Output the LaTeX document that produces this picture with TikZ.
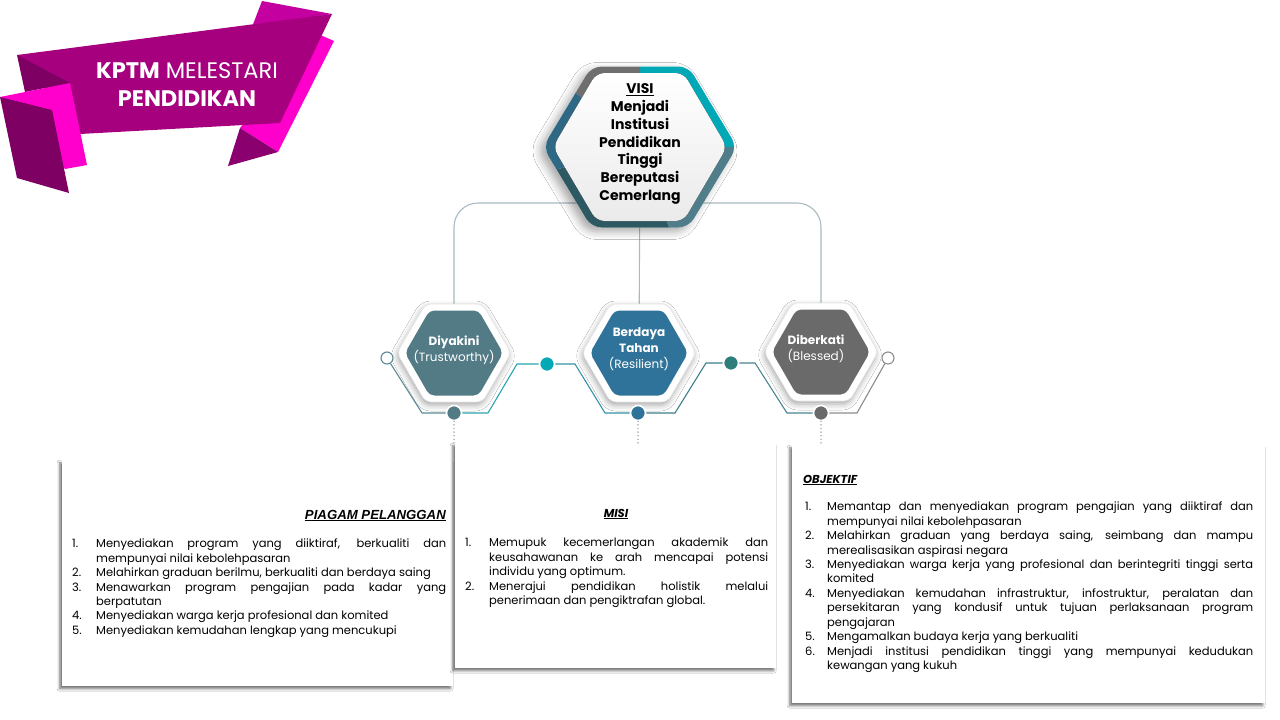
\documentclass[tikz,border=0pt]{standalone}
\usepackage{fontspec}
\setmainfont{Poppins}
\newfontfamily\arialf{Liberation Sans}
\usetikzlibrary{shadows.blur}
\definecolor{bandc}{HTML}{A6007E}
\definecolor{bandtop}{HTML}{C400A0}
\definecolor{pinkc}{HTML}{FF00CC}
\definecolor{darkc}{HTML}{7E0063}
\definecolor{darkr}{HTML}{8B006F}
\definecolor{ringgray}{HTML}{6E6E6E}
\definecolor{ringteal}{HTML}{00A9B5}
\definecolor{ringgt}{HTML}{4F7D89}
\definecolor{ringdark}{HTML}{2D5A62}
\definecolor{ringblue}{HTML}{2E6884}
\definecolor{hexA}{HTML}{537B86}
\definecolor{hexB}{HTML}{30739A}
\definecolor{hexC}{HTML}{6A6A6A}
\definecolor{linkc}{HTML}{A9BAC2}
\definecolor{dotc}{HTML}{7F7F7F}
\definecolor{mtealc}{HTML}{2E7F7B}
\definecolor{lineA}{HTML}{5B8A97}
\definecolor{lineB}{HTML}{2AA5B2}
\definecolor{lineC}{HTML}{3592A8}
\definecolor{lineD}{HTML}{3E7F8A}
\definecolor{lineE}{HTML}{4A8491}
\definecolor{lineF}{HTML}{8C8C8C}
\newcommand{\hexag}[2]{(#1,0) -- (#1/2,#2) -- (-#1/2,#2) -- (-#1,0) -- (-#1/2,-#2) -- (#1/2,-#2) -- cycle}
\newcommand{\itm}[3]{\par\noindent\hangindent=#1\hangafter=1\makebox[#1][l]{#2}#3\par}
\tikzset{
  pagebox/.style={fill=white, inner sep=0pt, blur shadow={shadow xshift=-2.5pt, shadow yshift=-2.5pt, shadow blur radius=2.5pt, shadow opacity=55}},
  listtext/.style={inner sep=0pt, anchor=north west, align=justify, font=\fontsize{11.5}{14.45}\selectfont, text=black},
  hexlabel/.style={text=white, align=center, inner sep=0pt, font=\fontsize{12}{16}\selectfont},
  bigdot/.style={circle, inner sep=0pt, minimum size=15pt, draw=white, line width=1.6pt, fill=#1},
  opendot/.style={circle, inner sep=0pt, minimum size=12pt, draw=#1, line width=1.1pt, fill=white},
  linkline/.style={draw=linkc, line width=1.1pt},
  conn/.style={draw=#1, line width=1.1pt},
  dotline/.style={draw=dotc, line width=1.4pt, line cap=round, dash pattern=on 0pt off 3.6pt},
  hexwhite/.style={fill=white, draw=black!10, line width=0.6pt, rounded corners=6pt, blur shadow={shadow xshift=-1pt, shadow yshift=-3pt, shadow blur radius=6pt, shadow opacity=35}},
  headbi/.style={inner sep=0pt, font=\fontsize{11.5}{14}\selectfont\bfseries\itshape},
}
\begin{document}
\begin{tikzpicture}[x=1pt,y=-1pt]
\fill[white] (0,0) rectangle (1280,720);
\useasboundingbox (0,0) rectangle (1280,720);

% ---- banner
\fill[bandtop] (262,1) -- (332,14) -- (252,27) -- cycle;
\fill[pinkc] (318,34) -- (334,41) -- (278,152) -- (240,128) -- cycle;
\fill[darkr] (240,128) -- (278,152) -- (228,166) -- cycle;
\fill[bandc] (17,55) -- (332,14) -- (280,123) -- (80,134) -- cycle;
\fill[darkc] (17,55) -- (70,83) -- (25,92) -- cycle;
\fill[pinkc] (0,97) -- (70,83) -- (87,165) -- (65,169) -- cycle;
\fill[darkc] (0,97) -- (52,110) -- (69,193) -- (17,178) -- cycle;
\node[text=white, align=center, inner sep=0pt, font=\fontsize{22.5}{28}\selectfont] (title) at (187,85) {\textbf{KPTM} MELESTARI\\\textbf{PENDIDIKAN}};

% ---- boxes
\node[pagebox, minimum width=391pt, minimum height=226pt, anchor=north west] (boxL) at (62,460) {};
\node[pagebox, minimum width=321pt, minimum height=225pt, anchor=north west] (boxM) at (455,443) {};
\node[pagebox, minimum width=473pt, minimum height=258pt, anchor=north west] (boxR) at (792,445) {};

% ---- links from vision
\coordinate (hc1) at (454,353);
\coordinate (hc2) at (639,353);
\coordinate (hc3) at (821,352);
\coordinate (vcen) at (640,147);
\coordinate (vj) at (640,203);
\draw[linkline, rounded corners=24pt] (hc1) |- (vj) -| (hc3);
\draw[linkline] (vcen) -- (hc2);

% ---- vision hexagon
\begin{scope}[shift={(640,147)}]
\fill[white, rounded corners=10pt, blur shadow={shadow xshift=-5pt, shadow yshift=-4pt, shadow blur radius=8pt, shadow opacity=35}] \hexag{97}{80.5};
\begin{scope}
\clip[rounded corners=10pt] \hexag{97}{80.5};
\fill[ringteal] (0,0) -- (200,0) -- (200,-200) -- (0,-200) -- cycle;
\fill[ringgray] (0,0) -- (0,-200) -- (-153,-129) -- cycle;
\fill[ringblue] (0,0) -- (-153,-129) -- (-193,52) -- cycle;
\fill[ringdark] (0,0) -- (-193,52) -- (-200,200) -- (68,188) -- cycle;
\fill[ringgt] (0,0) -- (68,188) -- (200,200) -- (200,0) -- cycle;
\end{scope}
\fill[rounded corners=8pt, top color=white, bottom color=black!8] \hexag{87}{74};
\end{scope}
\node[align=center, inner sep=0pt, font=\fontsize{14}{17.8}\selectfont\bfseries] (visi) at (640,144) {\underline{VISI}\\Menjadi\\Institusi\\Pendidikan\\Tinggi\\Bereputasi\\Cemerlang};

% ---- value hexagons
\foreach \cx/\cy/\col in {454/353/hexA, 639/353/hexB, 821/352/hexC} {
 \begin{scope}[shift={(\cx,\cy)}]
  \fill[hexwhite] \hexag{57}{49};
  \fill[\col, rounded corners=5pt] \hexag{49}{42.5};
 \end{scope}
}
\node[hexlabel] (h1) at (454,350) {\textbf{Diyakini}\\(Trustworthy)};
\node[hexlabel] (h2) at (639,349) {\textbf{Berdaya}\\\textbf{Tahan}\\(Resilient)};
\node[hexlabel, align=left] (h3) at (816,349) {\textbf{Diberkati}\\(Blessed)};

% ---- timeline dots
\node[opendot=lineA] (oL) at (387,358) {};
\node[bigdot=hexA] (b1) at (454,413) {};
\node[bigdot=ringteal] (m1) at (547,364) {};
\node[bigdot=hexB] (b2) at (638,413) {};
\node[bigdot=mtealc] (m2) at (731,363) {};
\node[bigdot=hexC] (b3) at (821,413) {};
\node[opendot=lineF] (oR) at (888,358) {};
\draw[conn=lineA] (oL) -- (422,413) -- (b1);
\draw[conn=lineB] (b1) -- (488,413) -- (517,364) -- (m1);
\draw[conn=lineC] (m1) -- (575,364) -- (605,413) -- (b2);
\draw[conn=lineD] (b2) -- (675,413) -- (706,363) -- (m2);
\draw[conn=lineE] (m2) -- (755,363) -- (787,413) -- (b3);
\draw[conn=lineF] (b3) -- (857,413) -- (oR);
\coordinate (d1) at (454,446);
\coordinate (d2) at (638,446);
\coordinate (d3) at (821,446);
\draw[dotline] (b1) -- (d1);
\draw[dotline] (b2) -- (d2);
\draw[dotline] (b3) -- (d3);

% ---- texts in boxes
\node[inner sep=0pt, anchor=base east, font=\arialf\fontsize{13.2}{15}\selectfont\bfseries\itshape] (hL) at (446,519) {\underline{PIAGAM PELANGGAN}};
\node[headbi, anchor=base] (hM) at (616,517) {\underline{MISI}};
\node[headbi, anchor=base west] (hR) at (803,483) {\underline{OBJEKTIF}};

\node[listtext, text width=374pt] (listL) at (72,533) {%
\itm{24pt}{1.}{Menyediakan program yang diiktiraf, berkualiti dan\linebreak mempunyai nilai kebolehpasaran}%
\itm{24pt}{2.}{Melahirkan graduan berilmu, berkualiti dan berdaya saing}%
\itm{24pt}{3.}{Menawarkan program pengajian pada kadar yang\linebreak berpatutan}%
\itm{24pt}{4.}{Menyediakan warga kerja profesional dan komited}%
\itm{24pt}{5.}{Menyediakan kemudahan lengkap yang mencukupi}};

\node[listtext, text width=303pt] (listM) at (465,532) {%
\itm{24pt}{1.}{Memupuk kecemerlangan akademik dan\linebreak keusahawanan ke arah mencapai potensi\linebreak individu yang optimum.}%
\itm{24pt}{2.}{Menerajui pendidikan holistik melalui\linebreak penerimaan dan pengiktrafan global.}};

\node[listtext, text width=448pt] (listR) at (805,496) {%
\itm{22pt}{1.}{Memantap dan menyediakan program pengajian yang diiktiraf dan\linebreak mempunyai nilai kebolehpasaran}%
\itm{22pt}{2.}{Melahirkan graduan yang berdaya saing, seimbang dan mampu\linebreak merealisasikan aspirasi negara}%
\itm{22pt}{3.}{Menyediakan warga kerja yang profesional dan berintegriti tinggi serta\linebreak komited}%
\itm{22pt}{4.}{Menyediakan kemudahan infrastruktur, infostruktur, peralatan dan\linebreak persekitaran yang kondusif untuk tujuan perlaksanaan program\linebreak pengajaran}%
\itm{22pt}{5.}{Mengamalkan budaya kerja yang berkualiti}%
\itm{22pt}{6.}{Menjadi institusi pendidikan tinggi yang mempunyai kedudukan\linebreak kewangan yang kukuh}};
\end{tikzpicture}
\end{document}
